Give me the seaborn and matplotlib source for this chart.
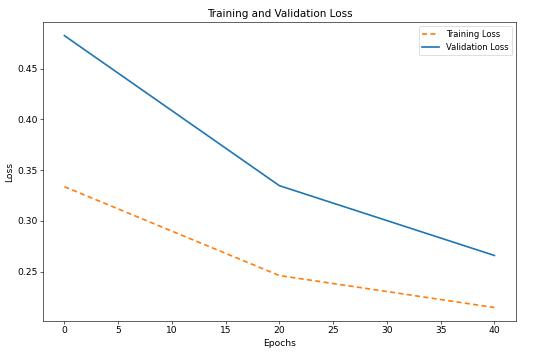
import matplotlib
matplotlib.use("Agg")
import matplotlib.pyplot as plt
import seaborn as sns
import pandas as pd

# values
epochs = [0, 20, 40]
train_loss = [0.3336, 0.2460, 0.2145]
val_loss = [0.4825, 0.3346, 0.2658]

df = pd.DataFrame({
    "Epochs": epochs * 2,
    "Loss": train_loss + val_loss,
    "Series": ["Training Loss"] * len(epochs) + ["Validation Loss"] * len(epochs),
})

plt.rcParams["font.size"] = 12

fig, ax = plt.subplots(figsize=(10, 6.473), dpi=55)
fig.subplots_adjust(left=0.078, right=0.938, top=0.938, bottom=0.098)

sns.lineplot(
    data=df, x="Epochs", y="Loss", hue="Series", style="Series",
    palette={"Training Loss": "#ff7f0e", "Validation Loss": "#1f77b4"},
    dashes={"Training Loss": (3, 2), "Validation Loss": ""},
    linewidth=2.2, ax=ax,
)

ax.set_title("Training and Validation Loss", fontsize=13.5)
ax.set_xlabel("Epochs")
ax.set_ylabel("Loss")
ax.set_xticks(range(0, 41, 5))
ax.legend(title=None, loc="upper right", fontsize=11)

fig.savefig("out.png", dpi=55)
